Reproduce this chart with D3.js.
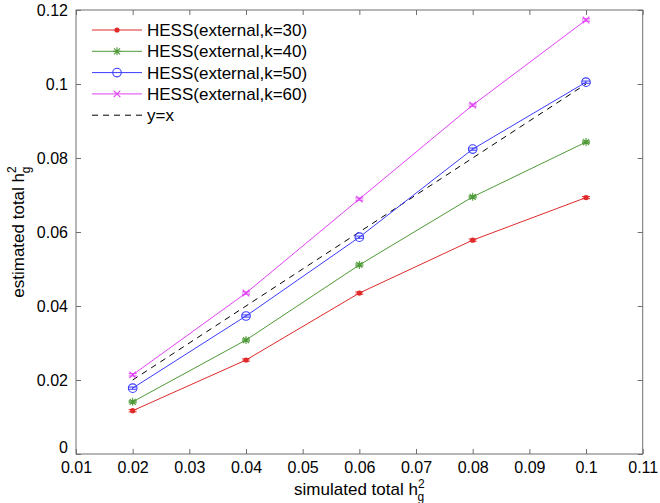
<!DOCTYPE html>
<html><head><meta charset="utf-8">
<script src="https://cdn.jsdelivr.net/npm/d3@7"></script>
<style>body{margin:0;background:#fff}text{font-family:"Liberation Sans",Arial,sans-serif}</style>
</head><body><svg id="c" width="660" height="503"></svg>
<script>
const xs = [0.02, 0.04, 0.06, 0.08, 0.10];
const k30 = [0.0117, 0.0254, 0.0435, 0.0578, 0.0693];
const k40 = [0.0141, 0.0308, 0.0511, 0.0695, 0.0843];
const k50 = [0.0178, 0.0373, 0.0586, 0.0824, 0.1005];
const k60 = [0.0214, 0.0435, 0.0689, 0.0943, 0.1173];
const errs = [0.0003, 0.0003, 0.0003, 0.0003, 0.0003];
const yx = [0.02, 0.10];
const labels = ["HESS(external,k=30)","HESS(external,k=40)","HESS(external,k=50)","HESS(external,k=60)","y=x"];
const xTicks = [0.01,0.02,0.03,0.04,0.05,0.06,0.07,0.08,0.09,0.1,0.11];
const yTicks = [0,0.02,0.04,0.06,0.08,0.1,0.12];

const series = [
  {vals:k30, color:"#e02a2a", marker:"dot"},
  {vals:k40, color:"#4f9a38", marker:"star"},
  {vals:k50, color:"#3c3cff", marker:"circle"},
  {vals:k60, color:"#e040f5", marker:"x"}
];

const svg = d3.select("#c");
const L=76, R=642.7, T=10, B=454;
const x = d3.scaleLinear().domain([0.01,0.11]).range([L,R]);
const y = d3.scaleLinear().domain([0,0.12]).range([B,T]);
const fmt = d => d===0 ? "0" : String(+d.toFixed(2));
const axisColor = "#6e6e6e";

svg.append("rect").attr("x",L).attr("y",T).attr("width",R-L).attr("height",B-T)
  .attr("fill","none").attr("stroke",axisColor).attr("stroke-width",1);

const tl = 5;
const styleAxis = g => {
  g.select(".domain").remove();
  g.selectAll(".tick line").attr("stroke",axisColor);
  g.selectAll(".tick text").attr("fill","#000").attr("font-size","16px");
};
svg.append("g").attr("transform",`translate(0,${B})`)
  .call(d3.axisBottom(x).tickValues(xTicks).tickFormat(fmt).tickSizeInner(-tl).tickSizeOuter(0).tickPadding(8))
  .call(styleAxis);
svg.append("g").attr("transform",`translate(0,${T})`)
  .call(d3.axisTop(x).tickValues(xTicks).tickFormat("").tickSizeInner(-tl).tickSizeOuter(0))
  .call(styleAxis);
svg.append("g").attr("transform",`translate(${L},0)`)
  .call(d3.axisLeft(y).tickValues(yTicks).tickFormat(fmt).tickSizeInner(-tl).tickSizeOuter(0).tickPadding(8))
  .call(styleAxis)
  .call(g => g.selectAll(".tick text").filter(d => d === 0).attr("dy","-0.1em"));
svg.append("g").attr("transform",`translate(${R},0)`)
  .call(d3.axisRight(y).tickValues(yTicks).tickFormat("").tickSizeInner(-tl).tickSizeOuter(0))
  .call(styleAxis);

const xl = svg.append("text").attr("x",(L+R)/2).attr("y",495).attr("text-anchor","middle").attr("font-size","17px");
xl.append("tspan").text("simulated total h");
xl.append("tspan").attr("font-size","12px").attr("dy",-7).text("2");
xl.append("tspan").attr("font-size","12px").attr("dx",-7).attr("dy",13).text("g");

const yl = svg.append("text").attr("transform",`translate(24,${(T+B)/2}) rotate(-90)`).attr("text-anchor","middle").attr("font-size","17px");
yl.append("tspan").text("estimated total h");
yl.append("tspan").attr("font-size","12px").attr("dy",-8).text("2");
yl.append("tspan").attr("font-size","12px").attr("dx",-7).attr("dy",14).text("g");

svg.append("line").attr("x1",x(yx[0])).attr("y1",y(yx[0])).attr("x2",x(yx[1])).attr("y2",y(yx[1]))
  .attr("stroke","#000").attr("stroke-width",1).attr("stroke-dasharray","6,5");

function marker(g, type, cx, cy, color){
  if(type==="dot"){
    g.append("circle").attr("cx",cx).attr("cy",cy).attr("r",2.6).attr("fill",color);
  } else if(type==="circle"){
    g.append("circle").attr("cx",cx).attr("cy",cy).attr("r",4.3).attr("fill","none").attr("stroke",color).attr("stroke-width",1.1);
  } else if(type==="x"){
    const s=3.3;
    g.append("path").attr("d",`M${cx-s},${cy-s}L${cx+s},${cy+s}M${cx-s},${cy+s}L${cx+s},${cy-s}`).attr("stroke",color).attr("stroke-width",1.1);
  } else if(type==="star"){
    const s=4, d=3;
    g.append("path").attr("d",`M${cx-s},${cy}L${cx+s},${cy}M${cx},${cy-s}L${cx},${cy+s}M${cx-d},${cy-d}L${cx+d},${cy+d}M${cx-d},${cy+d}L${cx+d},${cy-d}`).attr("stroke",color).attr("stroke-width",1.1);
  }
}

const line = d3.line().x(d=>x(d[0])).y(d=>y(d[1]));
series.forEach(s=>{
  const pts = xs.map((v,i)=>[v,s.vals[i]]);
  svg.append("path").attr("d",line(pts)).attr("fill","none").attr("stroke",s.color).attr("stroke-width",1);
  const g = svg.append("g");
  pts.forEach((p,i)=>{
    const cx=x(p[0]), y1=y(p[1]-errs[i]), y2=y(p[1]+errs[i]);
    g.append("path").attr("d",`M${cx},${y1}L${cx},${y2}M${cx-4},${y1}L${cx+4},${y1}M${cx-4},${y2}L${cx+4},${y2}`)
      .attr("stroke",s.color).attr("stroke-width",1).attr("fill","none");
    marker(g, s.marker, cx, y(p[1]), s.color);
  });
});

const lg = svg.append("g");
labels.forEach((lab,i)=>{
  const ly = 30 + i*21.3;
  const s = series[i];
  if(s){
    lg.append("line").attr("x1",92).attr("x2",142).attr("y1",ly).attr("y2",ly).attr("stroke",s.color).attr("stroke-width",1);
    marker(lg, s.marker, 117, ly, s.color);
  } else {
    lg.append("line").attr("x1",92).attr("x2",142).attr("y1",ly).attr("y2",ly).attr("stroke","#000").attr("stroke-width",1).attr("stroke-dasharray","6,5");
  }
  lg.append("text").attr("x",147).attr("y",ly+6).attr("font-size","17px").text(lab);
});
</script></body></html>
